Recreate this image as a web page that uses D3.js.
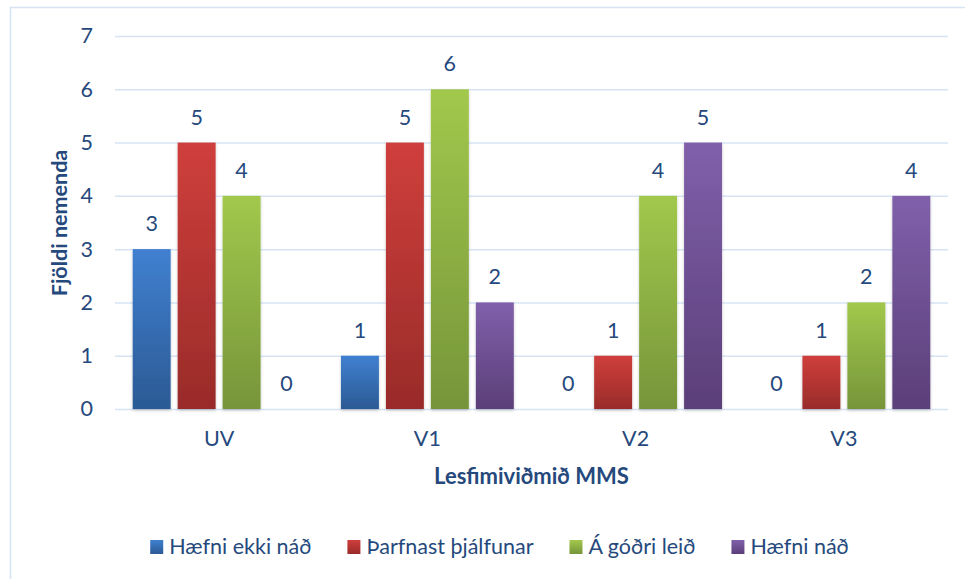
<!DOCTYPE html>
<head>
	<meta charset="utf-8">
	<script src="https://d3js.org/d3.v7.min.js"></script>
	<style>
		body { margin: 0; background: #fff; }
		text { font-family: Lato, "Open Sans", sans-serif; fill: #25497c; }
	</style>
</head>
<body>
<svg></svg>
<script>
	var categories = ["UV", "V1", "V2", "V3"];
	var seriesNames = ["Hæfni ekki náð", "Þarfnast þjálfunar", "Á góðri leið", "Hæfni náð"];
	var hafniEkki = [3, 1, 0, 0];
	var tharfnast = [5, 5, 1, 1];
	var godriLeid = [4, 6, 4, 2];
	var hafniNad = [0, 2, 5, 4];
	var yTicks = [0, 1, 2, 3, 4, 5, 6, 7];

	var seriesValues = [hafniEkki, tharfnast, godriLeid, hafniNad];
	var colorsTop = ["#4080d0", "#cf3f3c", "#a2c84c", "#8060aa"];
	var colorsBottom = ["#2b5a94", "#992b29", "#76953a", "#5a3f79"];

	var width = 965, height = 579;
	var fontSize = 21.5;
	var svg = d3.select("svg").attr("width", width).attr("height", height);

	var defs = svg.append("defs");
	seriesNames.forEach(function(s, i) {
		var g = defs.append("linearGradient").attr("id", "grad" + i)
			.attr("x1", 0).attr("y1", 0).attr("x2", 0).attr("y2", 1);
		g.append("stop").attr("offset", "0%").attr("stop-color", colorsTop[i]);
		g.append("stop").attr("offset", "100%").attr("stop-color", colorsBottom[i]);
	});
	var f = defs.append("filter").attr("id", "shadow")
		.attr("x", "-20%").attr("y", "-20%").attr("width", "140%").attr("height", "140%");
	f.append("feDropShadow").attr("dx", 0).attr("dy", 1.5).attr("stdDeviation", 1.5)
		.attr("flood-color", "#000").attr("flood-opacity", 0.22);

	// chart frame
	svg.append("rect")
		.attr("x", 10.5).attr("y", 7.5)
		.attr("width", 978).attr("height", 600)
		.attr("fill", "none").attr("stroke", "#d6e3f3").attr("stroke-width", 1.5);

	var plotLeft = 115, plotRight = 948, plotTop = 36, plotBottom = 409;

	var x0 = d3.scaleBand().domain(categories).range([plotLeft, plotRight])
		.paddingInner(0.17).paddingOuter(0.085);
	var x1 = d3.scaleBand().domain(seriesNames).range([0, x0.bandwidth()])
		.paddingInner(0.156);
	var y = d3.scaleLinear().domain([0, 7]).range([plotBottom, plotTop]);

	// gridlines + y labels
	var yAxis = d3.axisLeft(y).tickValues(yTicks).tickSize(-(plotRight - plotLeft)).tickPadding(22)
		.tickFormat(d3.format("d"));
	var ga = svg.append("g").attr("transform", "translate(" + plotLeft + ",0)").call(yAxis);
	ga.select(".domain").remove();
	ga.selectAll("line").attr("stroke", "#d7e3f4").attr("stroke-width", 1.5);
	ga.selectAll("text").attr("font-size", fontSize).attr("font-family", null)
		.style("fill", "#25497c");

	// bars
	var groups = svg.selectAll(".grp").data(categories).enter().append("g")
		.attr("class", "grp")
		.attr("transform", function(d) { return "translate(" + x0(d) + ",0)"; });

	seriesNames.forEach(function(s, si) {
		groups.append("rect")
			.attr("x", x1(s))
			.attr("y", function(d, ci) { return y(seriesValues[si][ci]); })
			.attr("width", x1.bandwidth())
			.attr("height", function(d, ci) { return plotBottom - y(seriesValues[si][ci]); })
			.attr("fill", "url(#grad" + si + ")")
			.attr("filter", "url(#shadow)");
		groups.append("text")
			.attr("x", x1(s) + x1.bandwidth() / 2)
			.attr("y", function(d, ci) { return y(seriesValues[si][ci]) - 18; })
			.attr("text-anchor", "middle")
			.attr("font-size", fontSize)
			.text(function(d, ci) { return seriesValues[si][ci]; });
	});

	// x category labels
	var xAxis = d3.axisBottom(x0).tickSize(0).tickPadding(22);
	var gx = svg.append("g").attr("transform", "translate(0," + plotBottom + ")").call(xAxis);
	gx.select(".domain").remove();
	gx.selectAll("text").attr("font-size", fontSize).attr("font-family", null)
		.style("fill", "#25497c");

	// axis titles
	svg.append("text")
		.attr("x", (plotLeft + plotRight) / 2).attr("y", 484)
		.attr("text-anchor", "middle").attr("font-size", 22).attr("font-weight", "bold")
		.text("Lesfimiviðmið MMS");
	svg.append("text")
		.attr("transform", "translate(67,223) rotate(-90)")
		.attr("text-anchor", "middle").attr("font-size", 21.5).attr("font-weight", "bold")
		.text("Fjöldi nemenda");

	// legend, laid out from the measured text widths and centred in the frame
	var lg = svg.append("g");
	var items = lg.selectAll(".lg").data(seriesNames).enter().append("g").attr("class", "lg");
	items.append("rect").attr("width", 13).attr("height", 14).attr("y", 540)
		.attr("fill", function(d, i) { return "url(#grad" + i + ")"; });
	items.append("text").attr("x", 19).attr("y", 554).attr("font-size", fontSize)
		.text(function(d) { return d; });
	var gap = 36;
	var cursor = 0;
	items.each(function() {
		var w = 19 + d3.select(this).select("text").node().getComputedTextLength();
		d3.select(this).attr("transform", "translate(" + cursor + ",0)");
		cursor += w + gap;
	});
	var total = cursor - gap;
	lg.attr("transform", "translate(" + (499.5 - total / 2) + ",0)");
</script>
</body>
</html>
